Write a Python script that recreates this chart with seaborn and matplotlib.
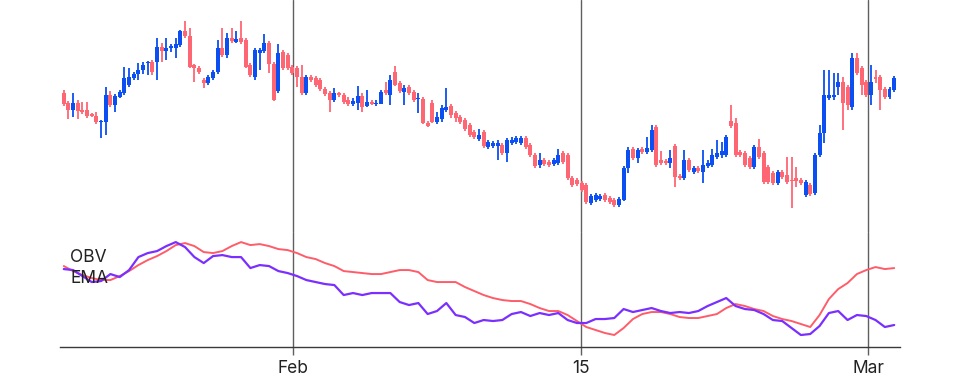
import numpy as np
import pandas as pd
import matplotlib
matplotlib.use('Agg')
import matplotlib.pyplot as plt
import seaborn as sns

# candle data (one candle per period, arbitrary price units)
opens = [157, 147, 140, 147, 140, 140, 136, 134, 128, 128,
         155, 145, 153, 157, 165, 172, 176, 180, 187, 188,
         188, 203, 199, 202, 202, 205, 219, 214, 185, 182,
         170, 167, 172, 178, 202, 195, 212, 208, 212, 210,
         185, 173, 197, 199, 207, 186, 159, 198, 195, 183,
         182, 173, 157, 173, 172, 170, 161, 157, 150, 157,
         155, 150, 146, 147, 154, 144, 148, 146, 146, 160,
         155, 178, 167, 158, 163, 158, 151, 151, 127, 147,
         128, 131, 140, 144, 137, 133, 130, 125, 118, 111,
         118, 103, 104, 104, 105, 97, 107, 108, 107, 112,
         105, 95, 85, 90, 88, 86, 87, 97, 95, 72,
         70, 67, 65, 47, 50, 51, 55, 52, 50, 45,
         50, 82, 101, 92, 101, 98, 100, 123, 90, 89,
         87, 104, 74, 72, 90, 78, 82, 78, 84, 85,
         93, 95, 95, 129, 127, 98, 97, 92, 83, 103,
         97, 83, 77, 67, 78, 75, 70, 72, 70, 55,
         65, 57, 95, 117, 152, 153, 163, 168, 163, 143,
         192, 182, 168, 155, 173, 173, 161, 153, 160]
closes = [146, 140, 147, 139, 138, 134, 134, 128, 129, 155,
          145, 154, 158, 172, 173, 176, 180, 185, 188, 178,
          203, 199, 202, 204, 206, 219, 214, 183, 182, 178,
          167, 173, 178, 202, 195, 212, 209, 211, 208, 183,
          175, 200, 200, 207, 186, 150, 197, 182, 182, 177,
          173, 157, 173, 170, 165, 161, 156, 150, 157, 155,
          148, 146, 149, 154, 143, 148, 146, 147, 158, 157,
          170, 165, 159, 162, 157, 150, 152, 127, 124, 128,
          133, 142, 143, 135, 132, 128, 121, 115, 113, 115,
          104, 108, 107, 107, 97, 110, 110, 112, 112, 103,
          95, 84, 90, 86, 85, 90, 95, 88, 72, 65,
          66, 60, 48, 54, 55, 54, 50, 48, 45, 51,
          82, 100, 92, 100, 98, 102, 120, 85, 87, 87,
          92, 73, 72, 90, 80, 82, 79, 85, 87, 95,
          97, 99, 113, 124, 95, 95, 85, 83, 103, 93,
          68, 68, 67, 78, 73, 68, 69, 69, 67, 68,
          56, 95, 117, 155, 155, 155, 168, 147, 145, 192,
          177, 165, 155, 168, 171, 160, 153, 161, 172]
highs = [160, 149, 157, 150, 148, 148, 137, 138, 130, 163,
         159, 156, 160, 183, 182, 178, 187, 188, 189, 190,
         212, 207, 212, 206, 212, 220, 229, 222, 186, 184,
         172, 175, 180, 210, 222, 217, 222, 219, 229, 212,
         187, 202, 202, 216, 209, 188, 206, 200, 197, 185,
         184, 185, 175, 175, 174, 172, 163, 159, 162, 158,
         157, 153, 152, 164, 157, 160, 150, 150, 160, 168,
         175, 184, 169, 165, 165, 160, 157, 153, 129, 150,
         138, 145, 162, 146, 139, 135, 132, 127, 120, 121,
         120, 110, 109, 110, 107, 112, 113, 114, 114, 114,
         107, 97, 97, 92, 90, 92, 101, 99, 97, 74,
         72, 69, 67, 56, 57, 56, 57, 54, 52, 53,
         84, 103, 103, 102, 103, 113, 125, 125, 99, 91,
         100, 106, 76, 100, 92, 84, 84, 100, 90, 101,
         110, 108, 115, 145, 132, 100, 99, 94, 105, 111,
         99, 85, 79, 80, 80, 93, 93, 83, 72, 70,
         67, 97, 125, 180, 180, 177, 177, 173, 165, 197,
         197, 184, 170, 185, 180, 175, 163, 163, 174]
lows = [144, 131, 133, 131, 136, 132, 133, 126, 112, 115,
        143, 138, 152, 155, 163, 170, 170, 176, 175, 175,
        170, 188, 190, 198, 192, 203, 212, 182, 168, 176,
        162, 165, 170, 176, 193, 192, 207, 207, 206, 182,
        173, 170, 180, 197, 177, 149, 157, 180, 180, 175,
        163, 155, 155, 168, 163, 159, 154, 138, 148, 153,
        146, 144, 144, 140, 138, 143, 145, 144, 146, 155,
        145, 164, 157, 145, 155, 148, 137, 126, 123, 127,
        126, 128, 138, 132, 128, 126, 119, 113, 111, 109,
        102, 101, 102, 90, 95, 88, 105, 106, 105, 101,
        93, 82, 82, 84, 83, 84, 85, 86, 70, 63,
        64, 58, 46, 45, 48, 49, 48, 46, 43, 43,
        49, 77, 90, 87, 96, 96, 98, 83, 85, 85,
        82, 63, 70, 70, 78, 76, 77, 67, 82, 83,
        91, 92, 93, 122, 93, 93, 83, 81, 81, 91,
        66, 66, 65, 65, 71, 66, 42, 63, 65, 53,
        54, 55, 93, 107, 150, 150, 155, 120, 140, 140,
        175, 155, 153, 145, 167, 140, 151, 151, 158]

# OBV and its EMA, read at every second candle
obv = [31, 30, 24, 18, 19, 26, 23, 30, 43, 47,
       49, 54, 58, 53, 43, 37, 44, 45, 43, 43,
       32, 35, 34, 29, 27, 24, 20, 18, 16, 15,
       5, 7, 5, 7, 7, 7, -2, -5, -3, -14,
       -11, -3, -15, -17, -23, -20, -21, -20, -14, -12,
       -16, -13, -15, -13, -20, -23, -23, -19, -19, -18,
       -9, -12, -10, -8, -11, -13, -12, -13, -11, -6,
       -2, 2, -6, -9, -10, -14, -20, -21, -28, -35,
       -34, -26, -13, -11, -20, -15, -16, -20, -27, -25]
ema = [34, 29, 25, 22, 20, 20, 24, 29, 35, 40,
       44, 49, 55, 57, 54, 48, 47, 49, 54, 58,
       55, 56, 54, 51, 50, 47, 43, 41, 37, 34,
       29, 28, 27, 26, 26, 28, 30, 30, 28, 20,
       18, 18, 18, 13, 9, 5, 2, 0, -1, -1,
       -4, -8, -11, -11, -15, -21, -27, -30, -33, -35,
       -28, -19, -14, -12, -12, -14, -17, -18, -18, -16,
       -14, -8, -4, -6, -9, -11, -16, -19, -21, -24,
       -27, -15, 1, 11, 17, 26, 30, 33, 31, 32]

tick_dates = ['2023-02-01', '2023-02-15', '2023-03-01']
tick_labels = ['Feb', '15', 'Mar']

BLUE = '#0b4ef2'
RED = '#ff6673'
PURPLE = '#7a2fff'
EMA_RED = '#ff5c6a'
GRID = '#5f5f5f'

times = pd.date_range('2023-01-20 20:24', '2023-03-02 06:14', periods=len(closes))
df = pd.DataFrame({'time': times, 'open': opens, 'close': closes,
                   'high': highs, 'low': lows})
df['up'] = df['close'] >= df['open']
df['color'] = np.where(df['up'], BLUE, RED)
df['bottom'] = df[['open', 'close']].min(axis=1)
df['body'] = (df['close'] - df['open']).abs().clip(lower=1.5)

ind = pd.DataFrame({'time': times[::2], 'OBV': obv, 'EMA': ema})

sns.set_theme(style='white')
plt.rcParams['font.family'] = ['Inter', 'DejaVu Sans']

fig = plt.figure(figsize=(9.6, 3.78), dpi=100)
ax = fig.add_axes([0.0625, 0.386, 0.875, 0.614])
ax2 = fig.add_axes([0.0625, 0.082, 0.875, 0.304], sharex=ax)

# candles
ax.vlines(df['time'], df['low'], df['high'], colors=df['color'], lw=1.3, zorder=2)
ax.bar(df['time'], df['body'], bottom=df['bottom'], width=0.19,
       color=df['color'], linewidth=0, zorder=3)
ax.set_ylim(18, 250)

# indicator panel
sns.lineplot(data=ind, x='time', y='EMA', ax=ax2, color=EMA_RED, lw=1.4, zorder=3)
sns.lineplot(data=ind, x='time', y='OBV', ax=ax2, color=PURPLE, lw=1.6, zorder=4)
ax2.set_ylim(-47, 68)
ax2.text(0.012, 0.775, 'OBV', transform=ax2.transAxes, fontsize=12.5,
         color='#222222', va='center', ha='left', zorder=5)
ax2.text(0.012, 0.6, 'EMA', transform=ax2.transAxes, fontsize=12.5,
         color='#222222', va='center', ha='left', zorder=5)

ticks = pd.to_datetime(tick_dates)
for a in (ax, ax2):
    for t in ticks:
        a.axvline(t, color=GRID, lw=1.0, zorder=1)
    a.set_yticks([])
    a.set_ylabel('')
    a.set_xlabel('')
    for s in ['top', 'right', 'left', 'bottom']:
        a.spines[s].set_visible(False)

ax2.spines['bottom'].set_visible(True)
ax2.spines['bottom'].set_color('#3a3a3a')
ax2.spines['bottom'].set_linewidth(1.0)
ax2.set_xticks(ticks)
ax2.set_xticklabels(tick_labels)
ax2.tick_params(axis='x', length=6, width=1.0, color=GRID, labelsize=12.5,
                labelcolor='#222222', pad=3, bottom=True)
ax.tick_params(axis='x', labelbottom=False, length=0)
ax2.set_xlim(pd.Timestamp('2023-01-20 16:00'), pd.Timestamp('2023-03-02 13:00'))

fig.savefig('out.png', dpi=100)
